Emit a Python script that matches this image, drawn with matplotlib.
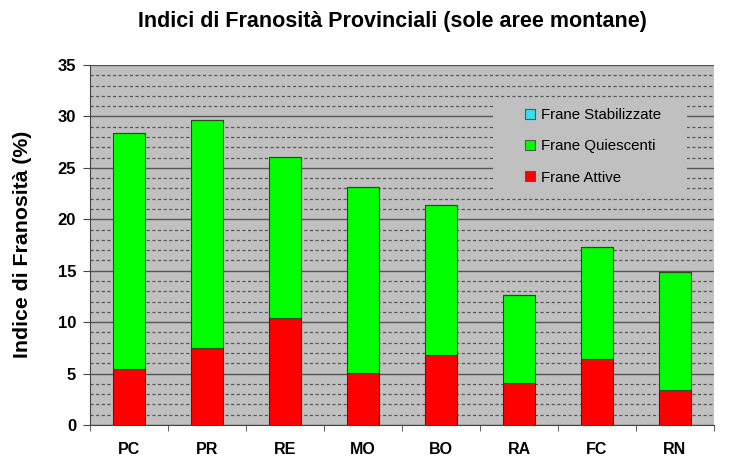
import matplotlib
matplotlib.use("Agg")
import matplotlib.pyplot as plt
import numpy as np
from matplotlib.ticker import MultipleLocator
from matplotlib.patches import Rectangle

provinces = ["PC", "PR", "RE", "MO", "BO", "RA", "FC", "RN"]
attive = [5.45, 7.5, 10.4, 5.05, 6.8, 4.1, 6.4, 3.4]
quiescenti = [22.95, 22.2, 15.7, 18.05, 14.6, 8.5, 10.9, 11.5]
stabilizzate = [0, 0, 0, 0, 0, 0, 0, 0]

plt.rcParams['font.family'] = ['Liberation Sans', 'DejaVu Sans']

W, H = 729, 458
fig = plt.figure(figsize=(W/100, H/100), dpi=100)
ax = fig.add_axes([90/W, 1-425/H, (714-90)/W, 360/H])
ax.set_facecolor('#c0c0c0')

x = np.arange(len(provinces))
w = 0.41
att = np.array(attive); qui = np.array(quiescenti); stb = np.array(stabilizzate)
ax.bar(x, att, w, color='#ff0000', edgecolor='#3a2a1a', linewidth=0.8, label='Frane Attive', zorder=3)
ax.bar(x, qui, w, bottom=att, color='#00ff00', edgecolor='#2a4a1a', linewidth=0.8, label='Frane Quiescenti', zorder=3)
ax.bar(x, stb, w, bottom=att+qui, color='#33e0f0', edgecolor='#2a4a1a', linewidth=0.8, label='Frane Stabilizzate', zorder=3)

ax.set_xlim(-0.5, len(provinces)-0.5)
ax.set_ylim(0, 35)
ax.yaxis.set_major_locator(MultipleLocator(5))
ax.yaxis.set_minor_locator(MultipleLocator(1))
ax.grid(which='major', axis='y', color='#555555', linewidth=1.0, linestyle='-', zorder=1)
ax.grid(which='minor', axis='y', color='#555555', linewidth=0.9, linestyle=(0, (2.5, 2)), zorder=1)

ax.set_xticks(x)
ax.set_xticklabels(provinces, fontweight='bold', fontsize=11.5)
ax.set_xticks(np.arange(len(provinces)+1)-0.5, minor=True)
ax.tick_params(axis='x', which='major', length=0, pad=12)
ax.tick_params(axis='x', which='minor', length=4, direction='out', color='#444444')
ax.tick_params(axis='y', which='major', labelsize=12, length=5, pad=5, color='#444444')
ax.tick_params(axis='y', which='minor', length=0)
for lab in ax.get_yticklabels():
    lab.set_fontweight('bold')

for side in ['top', 'right']:
    ax.spines[side].set_visible(False)
ax.spines['left'].set_color('#444444')
ax.spines['bottom'].set_color('#444444')

fig.text(23/W, 1-244/H, 'Indice di Franosità (%)', rotation=90,
         ha='center', va='center', fontweight='bold', fontsize=15.3)
fig.text(392/W, 1-27/H, 'Indici di Franosità Provinciali (sole aree montane)',
         ha='center', va='baseline', fontweight='bold', fontsize=15.5)

# legend background box
bg = Rectangle((493/W, 1-196/H), (687-493)/W, (196-98)/H, transform=fig.transFigure,
               facecolor='#c0c0c0', edgecolor='none', zorder=4)
ax.add_patch(bg)
bg.set_clip_on(False)

handles, labels = ax.get_legend_handles_labels()
leg = ax.legend(handles[::-1], labels[::-1], loc='upper left',
                bbox_to_anchor=(525/W, 1-108/H), bbox_transform=fig.transFigure,
                frameon=False, fontsize=10.8, handlelength=0.65, handleheight=0.65,
                labelspacing=1.15, borderpad=0, handletextpad=0.4, borderaxespad=0)
for h in leg.legend_handles:
    h.set_edgecolor('#555555')
leg.set_zorder(5)

fig.savefig('out.png', dpi=100)
